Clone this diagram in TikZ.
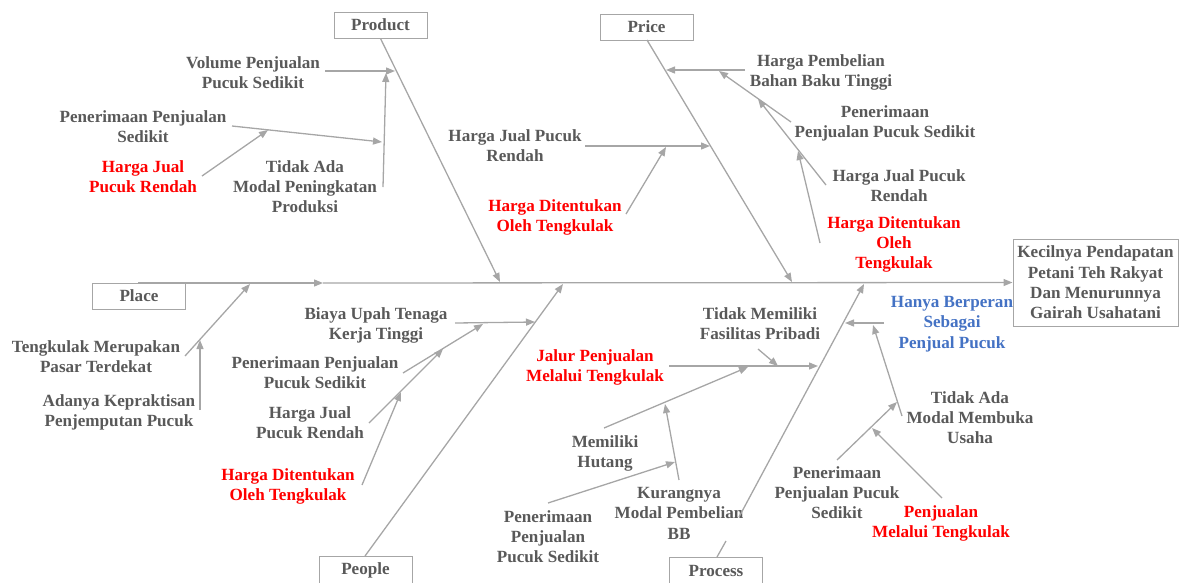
\documentclass[tikz,border=0pt]{standalone}
\usepackage{fontspec}
\setmainfont{Liberation Serif}
\usetikzlibrary{arrows.meta}
\definecolor{lnc}{HTML}{A6A6A6}
\definecolor{txc}{HTML}{595959}
\definecolor{rdc}{HTML}{FF0000}
\definecolor{blc}{HTML}{4472C4}
\begin{document}
\begin{tikzpicture}[x=1pt,y=-1pt,
  lbl/.style={align=center,inner sep=0pt,anchor=north,font=\fontsize{17.1}{20.3}\selectfont\bfseries,text=txc},
  redlbl/.style={lbl,text=rdc},
  bluelbl/.style={lbl,text=blc},
  cat/.style={draw=lnc,line width=1pt,minimum width=93pt,minimum height=26pt,inner sep=0pt,font=\fontsize{17.1}{20.3}\selectfont\bfseries,text=txc},
  arr/.style={draw=lnc,line width=1.3pt,-{Triangle[length=9pt,width=7pt]}},
  seg/.style={draw=lnc,line width=1.3pt}]
\useasboundingbox (0,0) rectangle (1190,582);
% category boxes
\node[cat] (product) at (380.5,25) {Product};
\node[cat] (price) at (646.5,27) {Price};
\node[cat] (place) at (139,296) {Place};
\node[cat,minimum height=28pt] (people) at (365.5,570) {People};
\node[cat,minimum height=28pt] (process) at (716,571) {Process};
\node[cat,minimum width=165pt,minimum height=87pt,align=center] (effect) at (1095.5,282.5)
  {Kecilnya Pendapatan\\Petani Teh Rakyat\\Dan Menurunnya\\Gairah Usahatani};
% labels
\node[lbl] (t1) at (253,56) {Volume Penjualan\\Pucuk Sedikit};
\node[lbl] (t2) at (143,110) {Penerimaan Penjualan\\Sedikit};
\node[redlbl] (t3) at (143,160) {Harga Jual\\Pucuk Rendah};
\node[lbl] (t4) at (305,160) {Tidak Ada\\Modal Peningkatan\\Produksi};
\node[lbl] (t5) at (515,129) {Harga Jual Pucuk\\Rendah};
\node[redlbl] (t6) at (555,199) {Harga Ditentukan\\Oleh Tengkulak};
\node[lbl] (t7) at (821,54) {Harga Pembelian\\Bahan Baku Tinggi};
\node[lbl] (t8) at (885,105) {Penerimaan\\Penjualan Pucuk Sedikit};
\node[lbl] (t9) at (899,169) {Harga Jual Pucuk\\Rendah};
\node[redlbl] (t10) at (894,216) {Harga Ditentukan\\Oleh\\Tengkulak};
\node[lbl] (t11) at (96,340) {Tengkulak Merupakan\\Pasar Terdekat};
\node[lbl] (t12) at (119,394) {Adanya Kepraktisan\\Penjemputan Pucuk};
\node[lbl] (t13) at (376,307) {Biaya Upah Tenaga\\Kerja Tinggi};
\node[lbl] (t14) at (315,356) {Penerimaan Penjualan\\Pucuk Sedikit};
\node[lbl] (t15) at (310,406) {Harga Jual\\Pucuk Rendah};
\node[redlbl] (t16) at (288,468) {Harga Ditentukan\\Oleh Tengkulak};
\node[lbl] (t17) at (760,307) {Tidak Memiliki\\Fasilitas Pribadi};
\node[redlbl] (t18) at (595,349) {Jalur Penjualan\\Melalui Tengkulak};
\node[lbl] (t19) at (605,435) {Memiliki\\Hutang};
\node[lbl] (t20) at (679,487) {Kurangnya\\Modal Pembelian\\BB};
\node[lbl] (t21) at (548,510) {Penerimaan\\Penjualan\\Pucuk Sedikit};
\node[bluelbl] (t22) at (952,296) {Hanya Berperan\\Sebagai\\Penjual Pucuk};
\node[lbl] (t23) at (970,391) {Tidak Ada\\Modal Membuka\\Usaha};
\node[lbl] (t24) at (837,466) {Penerimaan\\Penjualan Pucuk\\Sedikit};
\node[redlbl] (t25) at (941,505) {Penjualan\\Melalui Tengkulak};
% coordinates
\coordinate (spA) at (138,283);
\coordinate (spM) at (323,283);
\coordinate (prE) at (500,282);
\coordinate (pcS) at (647,40);
\coordinate (pcE) at (792,282);
\coordinate (peS) at (365,556);
\coordinate (peE) at (563,284);
\coordinate (psS) at (717,557);
\coordinate (psG1) at (726,541);
\coordinate (psG2) at (739,517);
\coordinate (psE) at (864,284);
% spine and bones
\draw[arr] (spA) -- (spM);
\draw[arr] (spM) -- (effect.west);
\draw[arr] (product.south) -- (prE);
\draw[arr] (pcS) -- (pcE);
\draw[arr] (peS) -- (peE);
\draw[seg] (psS) -- (psG1);
\draw[arr] (psG2) -- (psE);
% product sub-causes
\coordinate (a1s) at (325,71); \coordinate (a1e) at (395,71);
\coordinate (a2s) at (383,187); \coordinate (a2e) at (386,73);
\coordinate (a3s) at (232,126); \coordinate (a3e) at (382,142);
\coordinate (a4s) at (202,176); \coordinate (a4e) at (268,130);
\draw[arr] (a1s) -- (a1e);
\draw[arr] (a2s) -- (a2e);
\draw[arr] (a3s) -- (a3e);
\draw[arr] (a4s) -- (a4e);
% price sub-causes
\coordinate (b1s) at (745,70); \coordinate (b1e) at (666,70);
\coordinate (b2s) at (791,122); \coordinate (b2e) at (719,71);
\coordinate (b3s) at (826,185); \coordinate (b3e) at (758,99);
\coordinate (b4s) at (820,243); \coordinate (b4e) at (798,151);
\coordinate (b5s) at (585,146); \coordinate (b5e) at (710,146);
\coordinate (b6s) at (626,214); \coordinate (b6e) at (666,147);
\draw[arr] (b1s) -- (b1e);
\draw[arr] (b2s) -- (b2e);
\draw[arr] (b3s) -- (b3e);
\draw[arr] (b4s) -- (b4e);
\draw[arr] (b5s) -- (b5e);
\draw[arr] (b6s) -- (b6e);
% place sub-causes
\coordinate (c1s) at (185,356); \coordinate (c1e) at (250,284);
\coordinate (c2s) at (200,410); \coordinate (c2e) at (200,340);
\draw[arr] (c1s) -- (c1e);
\draw[arr] (c2s) -- (c2e);
% people sub-causes
\coordinate (d1s) at (455,323); \coordinate (d1e) at (535,322);
\coordinate (d2s) at (403,373); \coordinate (d2e) at (483,324);
\coordinate (d3s) at (369,423); \coordinate (d3e) at (443,349);
\coordinate (d4s) at (362,485); \coordinate (d4e) at (401,392);
\draw[arr] (d1s) -- (d1e);
\draw[arr] (d2s) -- (d2e);
\draw[arr] (d3s) -- (d3e);
\draw[arr] (d4s) -- (d4e);
% process sub-causes
\coordinate (e1s) at (758,349); \coordinate (e1e) at (778,366);
\coordinate (e2s) at (669,366); \coordinate (e2e) at (818,366);
\coordinate (e3s) at (604,428); \coordinate (e3e) at (748,367);
\coordinate (e4s) at (679,480); \coordinate (e4e) at (665,404);
\coordinate (e5s) at (548,503); \coordinate (e5e) at (675,462);
\coordinate (e6s) at (884,323); \coordinate (e6e) at (845,323);
\coordinate (e7s) at (902,416); \coordinate (e7e) at (873,325);
\coordinate (e8s) at (837,460); \coordinate (e8e) at (897,402);
\coordinate (e9s) at (942,498); \coordinate (e9e) at (872,428);
\draw[arr] (e1s) -- (e1e);
\draw[arr] (e2s) -- (e2e);
\draw[arr] (e3s) -- (e3e);
\draw[arr] (e4s) -- (e4e);
\draw[arr] (e5s) -- (e5e);
\draw[arr] (e6s) -- (e6e);
\draw[arr] (e7s) -- (e7e);
\draw[arr] (e8s) -- (e8e);
\draw[arr] (e9s) -- (e9e);
\end{tikzpicture}
\end{document}
